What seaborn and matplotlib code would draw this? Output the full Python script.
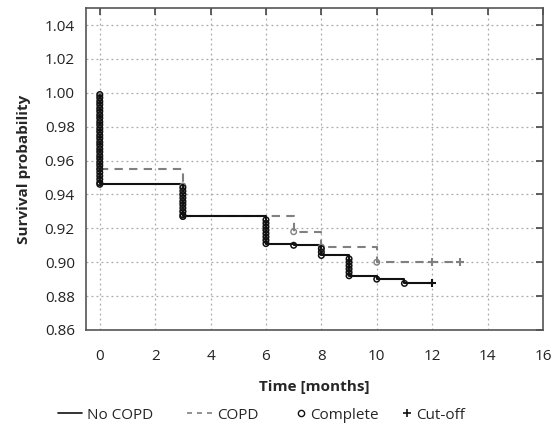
import pandas as pd
import matplotlib
matplotlib.use("Agg")
import matplotlib.pyplot as plt
import seaborn as sns
from matplotlib.lines import Line2D

# Kaplan-Meier steps: (time, survival) per event
no_copd_surv_0 = [0.999, 0.997, 0.995, 0.993, 0.991, 0.989, 0.987, 0.985, 0.983,
                  0.981, 0.979, 0.977, 0.975, 0.973, 0.971, 0.969, 0.967, 0.965,
                  0.963, 0.961, 0.959, 0.957, 0.955, 0.953, 0.951, 0.949, 0.947,
                  0.946]
no_copd_surv_3 = [0.944, 0.942, 0.940, 0.938, 0.936, 0.934, 0.932, 0.930, 0.928, 0.927]
no_copd_surv_6 = [0.925, 0.923, 0.921, 0.919, 0.917, 0.915, 0.913, 0.911]
no_copd_surv_7 = [0.910]
no_copd_surv_8 = [0.908, 0.906, 0.904]
no_copd_surv_9 = [0.902, 0.900, 0.898, 0.896, 0.894, 0.892]
no_copd_surv_10 = [0.890]
no_copd_surv_11 = [0.8875]
no_copd_cut_time = [12]
no_copd_cut_surv = [0.8875]

copd_surv_0 = [0.998, 0.994, 0.990, 0.986, 0.982, 0.978, 0.974, 0.970,
               0.966, 0.962, 0.958, 0.955]
copd_surv_3 = [0.945, 0.940, 0.935, 0.930, 0.927]
copd_surv_7 = [0.918]
copd_surv_8 = [0.909]
copd_surv_10 = [0.900]
copd_cut_time = [12, 13]
copd_cut_surv = [0.900, 0.900]

x_ticks = [0, 2, 4, 6, 8, 10, 12, 14, 16]
y_ticks = [0.86, 0.88, 0.90, 0.92, 0.94, 0.96, 0.98, 1.00, 1.02, 1.04]

no_copd_groups = {0: no_copd_surv_0, 3: no_copd_surv_3, 6: no_copd_surv_6,
                  7: no_copd_surv_7, 8: no_copd_surv_8, 9: no_copd_surv_9,
                  10: no_copd_surv_10, 11: no_copd_surv_11}
copd_groups = {0: copd_surv_0, 3: copd_surv_3, 7: copd_surv_7,
               8: copd_surv_8, 10: copd_surv_10}

no_copd_time = [t for t, v in no_copd_groups.items() for _ in v]
no_copd_surv = [s for v in no_copd_groups.values() for s in v]
copd_time = [t for t, v in copd_groups.items() for _ in v]
copd_surv = [s for v in copd_groups.values() for s in v]

sns.set_style("white")
plt.rcParams['font.family'] = ['Open Sans', 'DejaVu Sans']

black = "#111111"
gray = "#808080"

# line tables, with cut-off end appended so the step reaches the last point
no_copd_line = pd.DataFrame({"time": no_copd_time + no_copd_cut_time,
                             "surv": no_copd_surv + no_copd_cut_surv})
copd_line = pd.DataFrame({"time": copd_time + copd_cut_time,
                          "surv": copd_surv + copd_cut_surv})

fig, ax = plt.subplots(figsize=(5.58, 4.28), dpi=100)
fig.subplots_adjust(left=0.154, right=0.973, top=0.981, bottom=0.229)

sns.lineplot(data=copd_line, x="time", y="surv", ax=ax, estimator=None, sort=False,
             drawstyle="steps-post", color=gray, linestyle=(0, (4, 3)), linewidth=1.5)
sns.lineplot(data=no_copd_line, x="time", y="surv", ax=ax, estimator=None, sort=False,
             drawstyle="steps-post", color=black, linewidth=1.5)

# complete (event) markers
sns.scatterplot(x=copd_time, y=copd_surv, ax=ax, marker="o", s=16,
                facecolor="none", edgecolor=gray, linewidth=1.0, zorder=3)
sns.scatterplot(x=no_copd_time, y=no_copd_surv, ax=ax, marker="o", s=16,
                facecolor="none", edgecolor=black, linewidth=1.1, zorder=4)
# cut-off markers
sns.scatterplot(x=copd_cut_time, y=copd_cut_surv, ax=ax, marker="+", s=40,
                color=gray, linewidth=1.5, zorder=3)
sns.scatterplot(x=no_copd_cut_time, y=no_copd_cut_surv, ax=ax, marker="+", s=40,
                color=black, linewidth=1.5, zorder=4)

ax.set_xlim(-0.5, 16)
ax.set_ylim(0.86, 1.05)
ax.set_xticks(x_ticks)
ax.set_yticks(y_ticks)
ax.set_xticklabels([str(t) for t in x_ticks])
ax.set_yticklabels(["%.2f" % v for v in y_ticks])
ax.tick_params(direction="in", length=5, width=1.2, color="#444444",
               top=True, right=True, labelsize=11, labelcolor="#222222")
ax.tick_params(axis="x", pad=14)
ax.tick_params(axis="y", pad=8)
ax.grid(True, linestyle=(0, (1.5, 2.5)), color="#aaaaaa", linewidth=0.9)
for sp in ax.spines.values():
    sp.set_color("#555555")
    sp.set_linewidth(1.2)

ax.set_xlabel("Time [months]", fontsize=11, fontweight="bold", labelpad=11)
ax.set_ylabel("Survival probability", fontsize=11, fontweight="bold", labelpad=10)

line_handles = [
    Line2D([], [], color=black, linewidth=1.2),
    Line2D([], [], color=gray, linewidth=1.2, linestyle=(0, (3, 3))),
]
marker_handles = [
    Line2D([], [], color=black, marker="o", markersize=4.5, markerfacecolor="none",
           linestyle="none", markeredgewidth=1.0),
    Line2D([], [], color=black, marker="+", markersize=6, linestyle="none",
           markeredgewidth=1.2),
]
fig.legend(line_handles, ["No COPD", "COPD"], loc="center",
           bbox_to_anchor=(0.283, 0.030), ncol=2, frameon=False, fontsize=11,
           handlelength=1.6, handletextpad=0.35, columnspacing=2.2)
fig.legend(marker_handles, ["Complete", "Cut-off"], loc="center",
           bbox_to_anchor=(0.683, 0.030), ncol=2, frameon=False, fontsize=11,
           handlelength=0.5, handletextpad=0.35, columnspacing=1.6)

plt.savefig("out.png", dpi=100)
